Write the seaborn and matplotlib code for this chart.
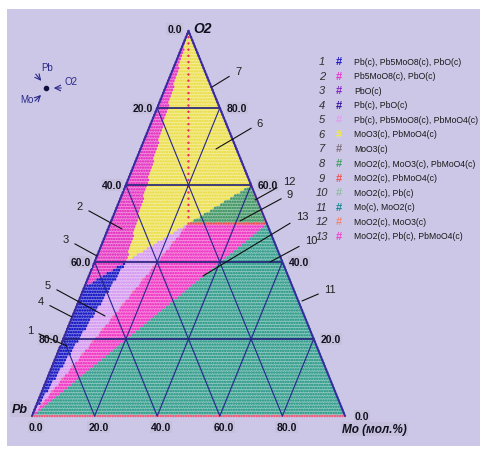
import numpy as np
import pandas as pd
import matplotlib
matplotlib.use("Agg")
import matplotlib.pyplot as plt
import matplotlib.colors as mcolors
from matplotlib.path import Path
from matplotlib.patches import Rectangle
import seaborn as sns

# ---- compositions of corners and compounds (mole fractions of Mo and O2) ----
species = ["Pb", "Mo", "O2", "PbO", "Pb5MoO8", "PbMoO4", "MoO3", "MoO2"]
mo_frac = [0.0, 1.0, 0.0, 0.0, 0.10, 0.25, 0.40, 0.50]
o2_frac = [0.0, 0.0, 1.0, 1 / 3, 0.40, 0.50, 0.60, 0.50]

# ---- two- and three-phase fields (id -> corner species) ----
field_ids = [1, 2, 5, 6, 8, 13, 10]
field_corners = [
    ["PbO", "Pb5MoO8", "Pb"],
    ["O2", "PbO", "Pb5MoO8"],
    ["Pb5MoO8", "PbMoO4", "Pb"],
    ["O2", "Pb5MoO8", "PbMoO4", "MoO3"],
    ["MoO3", "PbMoO4", "MoO2"],
    ["PbMoO4", "MoO2", "Pb"],
    ["Pb", "MoO2", "Mo"],
]

# ---- legend ----
legend_ids = list(range(1, 14))
legend_text = [
    "Pb(c), Pb5MoO8(c), PbO(c)",
    "Pb5MoO8(c), PbO(c)",
    "PbO(c)",
    "Pb(c), PbO(c)",
    "Pb(c), Pb5MoO8(c), PbMoO4(c)",
    "MoO3(c), PbMoO4(c)",
    "MoO3(c)",
    "MoO2(c), MoO3(c), PbMoO4(c)",
    "MoO2(c), PbMoO4(c)",
    "MoO2(c), Pb(c)",
    "Mo(c), MoO2(c)",
    "MoO2(c), MoO3(c)",
    "MoO2(c), Pb(c), PbMoO4(c)",
]
legend_colors = ["#1a14c8", "#f030d0", "#8020c0", "#3010a0", "#e0a0f0",
                 "#f4ec40", "#807080", "#40a060", "#f05050", "#90c0a0",
                 "#108890", "#f08870", "#f040d0"]

# colours of the dots inside the diagram
dot_colors = {
    1: "#1e1ec8", 2: "#e63cc4", 3: "#6a20b8", 4: "#3010a0",
    5: "#d69cf0", 6: "#ece052", 7: "#5a4a9a", 8: "#489a6a",
    9: "#f05050", 10: "#3aa090", 11: "#108890", 12: "#f08870",
    13: "#f03ec6", "edge": "#f06080", "tie": "#f02a5a", "tie2": "#f070a0",
}

tick_values = [0, 20, 40, 60, 80]

N = 124  # composition grid steps


def lighten(c, f):
    rgb = np.array(mcolors.to_rgb(c))
    return tuple(rgb + (1 - rgb) * f)


comp = {s: (m, o) for s, m, o in zip(species, mo_frac, o2_frac)}


def to_xy(m, o):
    m = np.asarray(m, float)
    o = np.asarray(o, float)
    return m + o / 2, o


# ---- classify grid points ----
rows = []
paths = [Path([comp[s] for s in c]) for c in field_corners]
for j in range(N + 1):
    for i in range(N - j + 1):
        m, o = i / N, j / N
        ph = None
        if j == 0:
            ph = "edge"
        elif i == 0:
            ph = 3 if 3 * j > N else 4
        elif i + j == N:
            ph = 7 if o > 0.6 + 1e-9 else (12 if o > 0.5 + 1e-9 else 11)
        elif 2 * j == N and N / 4 <= i <= N / 2:
            ph = 9
        elif 2 * i + j == N and 2 * j > N:
            ph = "tie"
        elif j == 2 * i and 2 * j < N and j % 4 == 0:
            ph = "tie2"
        else:
            for fid, p in zip(field_ids, paths):
                if p.contains_point((m, o), radius=1e-9) or p.contains_point((m, o), radius=-1e-9):
                    ph = fid
                    break
        if ph is None:
            ph = 10
        x, y = to_xy(m, o)
        rows.append((float(x), float(y), str(ph)))

df = pd.DataFrame(rows, columns=["x", "y", "phase"])
palette = {str(k): v for k, v in dot_colors.items()}

# ---- figure ----
sns.set_style("white")
plt.rcParams["font.family"] = ["Liberation Sans", "DejaVu Sans"]

W, H = 481, 452
fig = plt.figure(figsize=(W / 100, H / 100), dpi=100, facecolor="white")
ax = fig.add_axes([0, 0, 1, 1])
ax.patch.set_visible(False)
ax.add_patch(Rectangle((7 / W, 5 / H), 1 - 7 / W, 437 / H,
                       transform=fig.transFigure, facecolor="#cdc7e7",
                       edgecolor="none", zorder=0))
sx, sy = 313.0, 385.0
ax.set_xlim(-32 / sx, (W - 32) / sx)
ax.set_ylim((417 - H) / sy, 417 / sy)
ax.axis("off")


def px(u, v):
    """pixel position in the picture -> data coordinates"""
    return (u - 32) / sx, (417 - v) / sy


# light background of each field
for fid, corners in zip(field_ids, field_corners):
    xs, ys = to_xy([comp[s][0] for s in corners], [comp[s][1] for s in corners])
    ax.fill(xs, ys, color=lighten(dot_colors[fid], 0.45), lw=0, zorder=1)

sns.scatterplot(data=df, x="x", y="y", hue="phase", palette=palette,
                marker="o", s=3.3, linewidth=0, legend=False, ax=ax, zorder=2)

# ---- ternary grid ----
for k in [0.2, 0.4, 0.6, 0.8]:
    ax.plot([k / 2, 1 - k / 2], [k, k], color="#20207a", lw=1.2, zorder=3)
    ax.plot([k, k + (1 - k) / 2], [0, 1 - k], color="#26268e", lw=0.8, zorder=3)
    ax.plot([1 - k, (1 - k) / 2], [0, 1 - k], color="#26268e", lw=0.8, zorder=3)
ax.plot([0, 0.5, 1], [0, 1, 0], color="#3a2aa0", lw=1.4, zorder=4)

# ---- tick labels ----
tick_kw = dict(fontsize=7.5, fontweight="bold", color="#101020",
               textcoords="offset pixels", ha="center", va="center", zorder=6,
               bbox=dict(boxstyle="square,pad=0.1", fc="#c6c0dc", ec="none"))
for v in tick_values:
    o = 1 - v / 100
    ax.annotate(f"{v:.1f}", xy=to_xy(0, o), xytext=(-14, 2 if v == 0 else 0), **tick_kw)
    o = v / 100
    ax.annotate(f"{v:.1f}", xy=to_xy(1 - o, o), xytext=(17, 0), **tick_kw)
    ax.annotate(f"{v:.1f}", xy=to_xy(v / 100, 0), xytext=(4, -11), **tick_kw)

ax.text(*px(193, 29), "O2", fontsize=10, fontweight="bold", style="italic",
        color="#101020", ha="left", va="center", zorder=6)
ax.text(*px(20, 410), "Pb", fontsize=9, fontweight="bold", style="italic",
        color="#101020", ha="center", va="center", zorder=6,
        bbox=dict(boxstyle="square,pad=0.15", fc="#c6c0dc", ec="none"))
ax.text(*px(342, 430), "Mo (мол.%)", fontsize=8.5, fontweight="bold", style="italic",
        color="#101020", ha="left", va="center", zorder=6,
        bbox=dict(boxstyle="square,pad=0.1", fc="#c6c0dc", ec="none"))

# ---- numbered leaders ----
leaders = [
    ("7", (238, 72), (212, 88)), ("6", (260, 124), (216, 150)),
    ("12", (289, 182), (255, 201)), ("9", (290, 195), (240, 222)),
    ("13", (302, 217), (203, 277)), ("10", (311, 241), (270, 263)),
    ("11", (330, 290), (302, 302)), ("2", (80, 207), (122, 230)),
    ("3", (66, 240), (97, 257)), ("5", (48, 286), (105, 317)),
    ("4", (41, 302), (72, 318)), ("1", (30, 331), (67, 347)),
]
for lab, tp, tg in leaders:
    ax.annotate(lab, xy=px(*tg), xytext=px(*tp), textcoords="data",
                fontsize=8, color="#202020", ha="center", va="center", zorder=7,
                arrowprops=dict(arrowstyle="-", color="#101010", lw=0.8,
                                shrinkA=2, shrinkB=0))

# ---- orientation sketch ----
nav = "#28288a"
ax.plot(*px(46, 89), "o", color="#101040", ms=3, zorder=6)
for a, b in [((34, 73), (43, 84)), ((64, 89), (51, 89)), ((33, 104), (43, 94))]:
    ax.annotate("", xy=px(*b), xytext=px(*a),
                arrowprops=dict(arrowstyle="->", color=nav, lw=0.8))
ax.text(*px(47, 68), "Pb", fontsize=7, color=nav, ha="center", va="center")
ax.text(*px(71, 82), "O2", fontsize=7, color=nav, ha="center", va="center")
ax.text(*px(27, 100), "Mo", fontsize=7, color=nav, ha="center", va="center")

# ---- legend ----
for k, (pid, txt, col) in enumerate(zip(legend_ids, legend_text, legend_colors)):
    yy = 62.3 + 14.53 * k
    ax.text(*px(322, yy), str(pid), fontsize=8, style="italic", color="#303030",
            ha="center", va="center")
    ax.text(*px(339, yy), "#", fontsize=8, fontweight="bold", color=col,
            ha="center", va="center")
    ax.text(*px(354, yy), txt, fontsize=6.2, color="#181818", ha="left", va="center")

fig.savefig("out.png", dpi=100, facecolor="white")
